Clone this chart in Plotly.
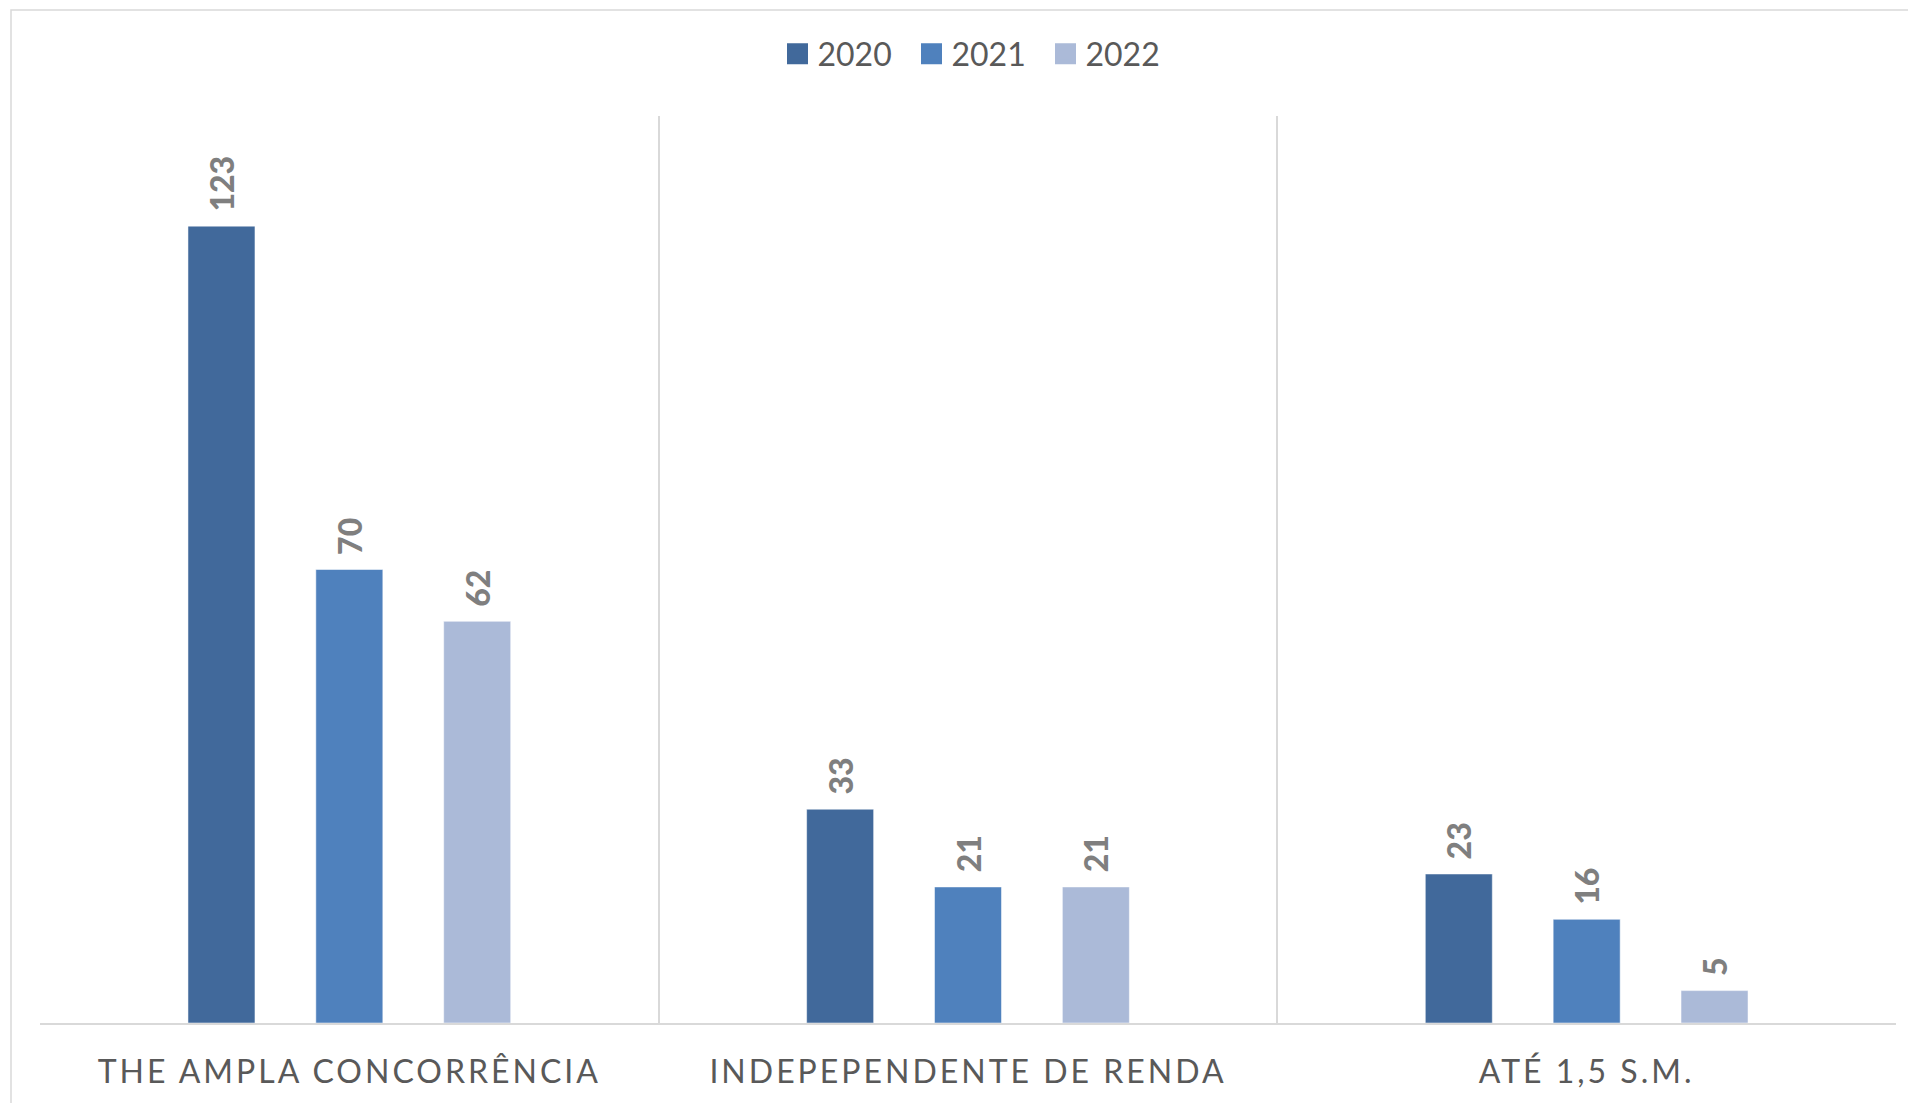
import plotly.graph_objects as go

categories = ["THE AMPLA CONCORRÊNCIA", "INDEPEPENDENTE DE RENDA", "ATÉ 1,5 S.M."]
years = ["2020", "2021", "2022"]
values_2020 = [123, 33, 23]
values_2021 = [70, 21, 16]
values_2022 = [62, 21, 5]
series_values = [values_2020, values_2021, values_2022]
colors = ["#41699B", "#4F81BD", "#ABBAD8"]

fig = go.Figure()
for name, vals, col in zip(years, series_values, colors):
    fig.add_trace(go.Bar(
        x=categories, y=vals, name=name, showlegend=False,
        marker=dict(color=col, line=dict(color="rgba(255,255,255,0.5)", width=1)),
        text=vals, texttemplate="\u00a0\u2009%{text}", textposition="outside", textangle=-90,
        constraintext="none", cliponaxis=False,
        textfont=dict(family="Lato", size=32, color="#7F7F7F", weight=900),
        hoverinfo="skip",
    ))
# legend entries with larger square symbols
for name, col in zip(years, colors):
    fig.add_trace(go.Scatter(
        x=[categories[0]], y=[None], name=name, mode="markers",
        marker=dict(symbol="square", size=16, color=col, line=dict(color=col, width=5)),
        showlegend=True, hoverinfo="skip",
    ))

FW, FH = 1908, 1103
L, R, T, B = 40, 12, 116, 80
W = FW - L - R
H = FH - T - B

fig.update_layout(
    width=FW, height=FH, autosize=False,
    paper_bgcolor="white", plot_bgcolor="white",
    margin=dict(l=L, r=R, t=T, b=B),
    barmode="group", bargap=0.38, bargroupgap=0.476,
    font=dict(family="Lato", color="#595959"),
    legend=dict(orientation="h", x=(978.5 - L) / W, xanchor="center",
                y=1 + (T - 54) / H, yanchor="middle",
                font=dict(family="Lato", size=32, color="#595959"),
                entrywidth=89, entrywidthmode="pixels",
                bgcolor="rgba(0,0,0,0)"),
    xaxis=dict(type="category", tickson="boundaries", showgrid=True,
               gridcolor="#D9D9D9", gridwidth=1.5, ticks="",
               showline=True, linecolor="#D9D9D9", linewidth=2,
               tickfont=dict(family="Lato", size=32, color="#595959"),
               ticklabelstandoff=20, automargin=False, fixedrange=True),
    yaxis=dict(range=[0, 140], showgrid=False, showticklabels=False,
               zeroline=False, showline=False, ticks="", automargin=False,
               fixedrange=True),
    shapes=[dict(type="rect", xref="paper", yref="paper",
                 x0=(11 - L) / W, x1=1 + 100 / W,
                 y0=-(B + 100) / H, y1=1 + (T - 10) / H,
                 line=dict(color="#D9D9D9", width=1.5), layer="below")],
)

post = """
document.body.style.margin='0';
document.body.style.overflow='hidden';
var gd = document.getElementById('{plot_id}');
function sp(){ gd.querySelectorAll('.xtick text').forEach(function(t){ t.style.letterSpacing='3px'; }); }
sp();
gd.on('plotly_afterplot', sp);
"""
fig.write_html("out.html", post_script=post, config={"displayModeBar": False})
